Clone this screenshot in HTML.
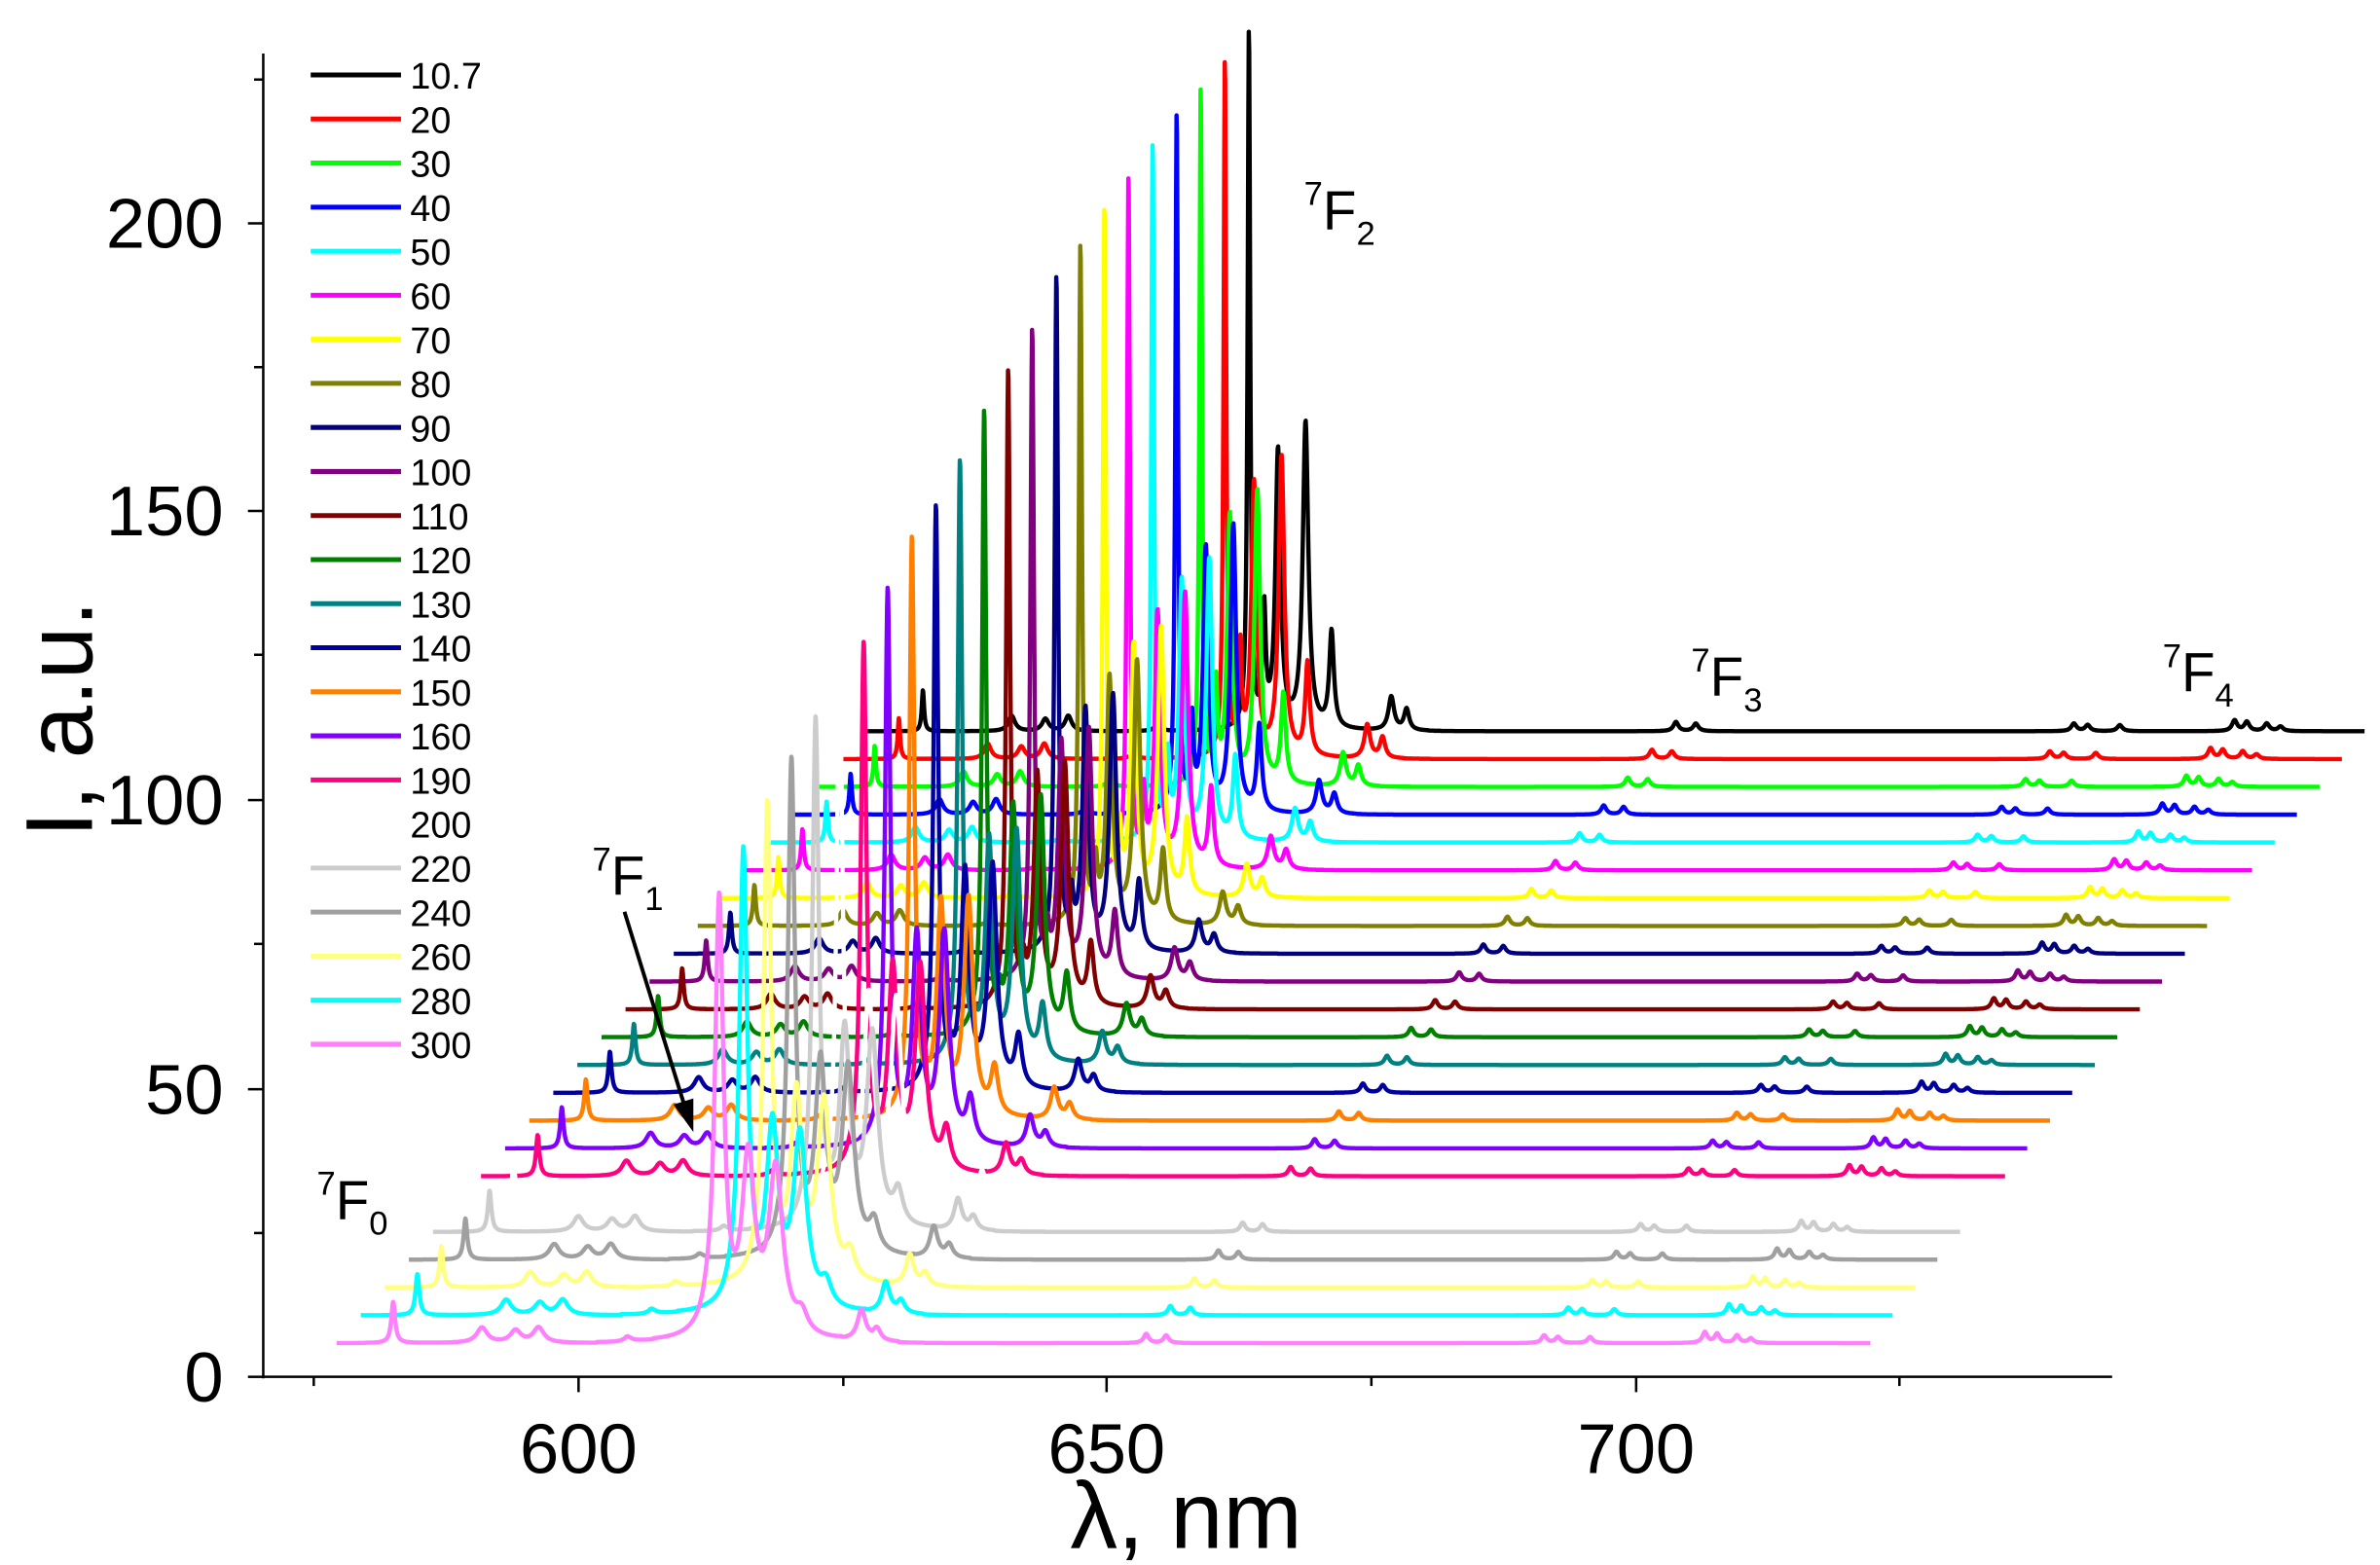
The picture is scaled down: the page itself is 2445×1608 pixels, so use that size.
<!DOCTYPE html>
<html><head><meta charset="utf-8"><style>
html,body{margin:0;padding:0;background:#fff}
svg{display:block}
text{font-family:"Liberation Sans",Arial,sans-serif;fill:#000}
</style></head><body>
<svg id="s" width="2445" height="1608" viewBox="0 0 1555 1023" preserveAspectRatio="none" xmlns="http://www.w3.org/2000/svg">
<rect width="1555" height="1023" fill="#fff"/>
<g id="series" fill="none" stroke-width="2.8" stroke-linejoin="round"></g>
<g stroke="#000" stroke-width="1.6" fill="none">
<line x1="172" y1="35" x2="172" y2="901"/>
<line x1="171" y1="900" x2="1380" y2="900"/>
<line x1="162" y1="900" x2="172" y2="900"/>
<line x1="162" y1="712" x2="172" y2="712"/>
<line x1="162" y1="523" x2="172" y2="523"/>
<line x1="162" y1="334" x2="172" y2="334"/>
<line x1="162" y1="146" x2="172" y2="146"/>
<line x1="166" y1="806" x2="172" y2="806"/>
<line x1="166" y1="617" x2="172" y2="617"/>
<line x1="166" y1="428" x2="172" y2="428"/>
<line x1="166" y1="240" x2="172" y2="240"/>
<line x1="166" y1="52" x2="172" y2="52"/>
<line x1="378" y1="900" x2="378" y2="910"/>
<line x1="723" y1="900" x2="723" y2="910"/>
<line x1="1069" y1="900" x2="1069" y2="910"/>
<line x1="205" y1="900" x2="205" y2="906"/>
<line x1="551" y1="900" x2="551" y2="906"/>
<line x1="896" y1="900" x2="896" y2="906"/>
<line x1="1241" y1="900" x2="1241" y2="906"/>
</g>
<g font-size="46" text-anchor="end">
<text x="146" y="916">0</text>
<text x="146" y="728">50</text>
<text x="146" y="539">100</text>
<text x="146" y="350">150</text>
<text x="146" y="162">200</text>
</g>
<g font-size="46" text-anchor="middle">
<text x="378" y="963">600</text>
<text x="723" y="963">650</text>
<text x="1069" y="963">700</text>
</g>
<text x="775" y="1012" font-size="62" text-anchor="middle">λ, nm</text>
<text transform="translate(60,470) rotate(-90)" font-size="62" text-anchor="middle">I, a.u.</text>
<g font-size="36">
<text x="852" y="150"><tspan font-size="22" dy="-16">7</tspan><tspan dy="16">F</tspan><tspan font-size="22" dy="10">2</tspan></text>
<text x="1105" y="455"><tspan font-size="22" dy="-16">7</tspan><tspan dy="16">F</tspan><tspan font-size="22" dy="10">3</tspan></text>
<text x="1413" y="452"><tspan font-size="22" dy="-16">7</tspan><tspan dy="16">F</tspan><tspan font-size="22" dy="10">4</tspan></text>
<text x="387" y="585"><tspan font-size="22" dy="-16">7</tspan><tspan dy="16">F</tspan><tspan font-size="22" dy="10">1</tspan></text>
<text x="207" y="797"><tspan font-size="22" dy="-16">7</tspan><tspan dy="16">F</tspan><tspan font-size="22" dy="10">0</tspan></text>
</g>
<line x1="408" y1="596" x2="447" y2="722" stroke="#000" stroke-width="2.5"/>
<polygon points="453,740 440,722 453,718" fill="#000"/>
<g id="legend" font-size="24"></g>
</svg>
<script>
(function(){
var NS="http://www.w3.org/2000/svg";
var names=["10.7","20","30","40","50","60","70","80","90","100","110","120","130","140","150","160","190","200","220","240","260","280","300"];
var cols=["#000000","#ff0000","#00ff00","#0000ff","#00ffff","#ff00ff","#ffff00","#808000","#000080","#800080","#800000","#008000","#008080","#0000a0","#ff8000","#8000ff","#ff0080","#ffffff","#cccccc","#a0a0a0","#ffff80","#00ffff","#ff80ff"];
var tops=[20,40,58,75,95,117,138,162,183,218,245,272,305,335,356,390,426,451,476,503,532,563,594];
var g=document.getElementById("series"),lg=document.getElementById("legend");
function L(d,h,w){return h/(1+(d/w)*(d/w));}
for(var i=0;i<23;i++){
  var t=i/22, base=478+18.18*i, M=816-15.73*i, H=base-tops[i];
  var start=M-250, end=M+729+1.05*i;
  var gm=1.0+2.4*t*t, gs=2.0+3.0*t*t, gn=0.9+0.6*t, gb=2.6+1.5*t;
  var pk=[
    [0,H,gm],
    [10,75*(1-t)*(1-t)*H/463,gn+0.3],
    [19,181*(1-t)+112*t,gs],
    [37,200*(1-t)+108*t,gs*1.1],
    [54,63*(1-t)+12*t,gs*0.9],
    [93,22*(1-t)+20*t,2.2+t],
    [103,14*(1-t)+8*t,2+t],
    [-213,27,gn],
    [-155,10,gb],[-133,8,gb],[-118,10,gb],
    [-60,3,3],[-8,6*t,4],
    [279,6,2],[292,5,2],
    [539,5,2],[548,4,2],[569,4,2],
    [644,7,2],[652,6,2],[665,5,2],[674,3,2]
  ];
  var d="",first=true;
  for(var x=start;x<=end;x+=0.3){
    var y=0,dd=x-M;
    for(var k=0;k<pk.length;k++){var e=dd-pk[k][0];if(Math.abs(e)<80)y+=L(e,pk[k][1],pk[k][2]);}
    d+=(first?"M":"L")+x.toFixed(1)+" "+(base-y).toFixed(1);first=false;
  }
  var p=document.createElementNS(NS,"path");
  p.setAttribute("d",d);p.setAttribute("stroke",cols[i]);
  g.appendChild(p);
  var ly=49+28.8*i;
  var l=document.createElementNS(NS,"line");
  l.setAttribute("x1",203);l.setAttribute("x2",262);l.setAttribute("y1",ly);l.setAttribute("y2",ly);
  l.setAttribute("stroke",cols[i]);l.setAttribute("stroke-width","3.2");
  lg.appendChild(l);
  var tx=document.createElementNS(NS,"text");
  tx.setAttribute("x",268);tx.setAttribute("y",ly+9);tx.textContent=names[i];
  lg.appendChild(tx);
}
})();
</script>
</body></html>
